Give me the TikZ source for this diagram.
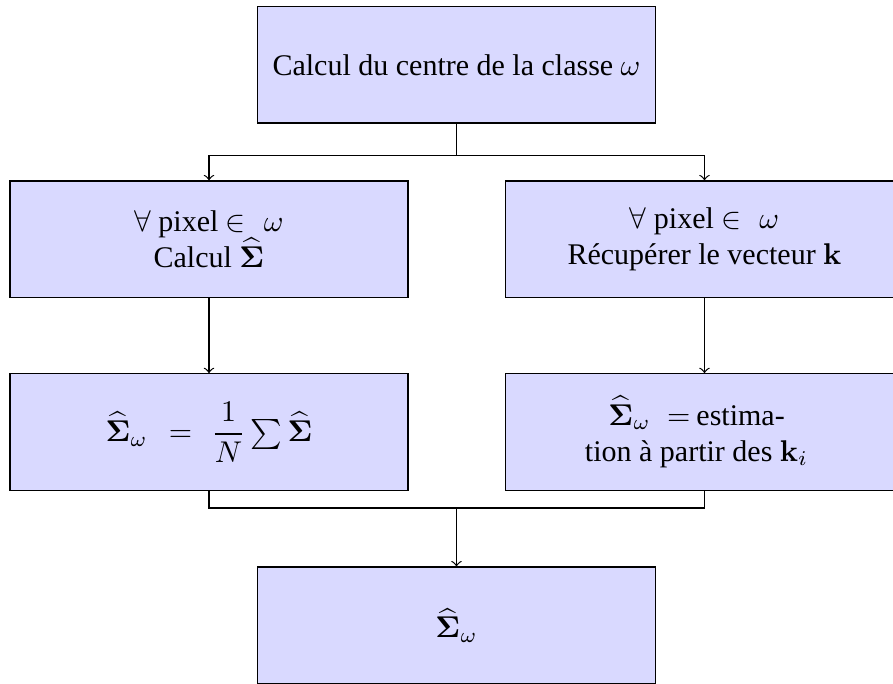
\documentclass[tikz,border=0pt]{standalone}
\usepackage[no-math]{fontspec}
\setmainfont{Liberation Serif}
\begin{document}
\begin{tikzpicture}[x=0.33333pt,y=-0.33333pt,
  box/.style={draw, fill=blue!15, minimum width=132.6pt, minimum height=38.8pt,
    align=center, inner sep=0pt, font=\normalsize},
  conn/.style={draw, line width=0.4pt},
  arr/.style={conn, ->}]
\useasboundingbox (0,0) rectangle (893,684);
\node[box] (top) at (456.5,64.8) {Calcul du centre de la classe $\omega$};
\node[box] (l2) at (209,239.2) {$\forall$ pixel $\in$\hspace{6pt}$\omega$\\Calcul $\widehat{\mathbf{\Sigma}}$};
\node[box] (r2) at (704.5,239.2) {$\forall$ pixel $\in$\hspace{6pt}$\omega$\\R\'ecup\'erer le vecteur $\mathbf{k}$};
\node[box] (l3) at (209,432) {$\widehat{\mathbf{\Sigma}}_\omega\hspace{4.2pt}=\hspace{3.6pt}{\displaystyle\frac{1}{N}}\sum\widehat{\mathbf{\Sigma}}$};
\node[box] (r3) at (704.5,432) {$\widehat{\mathbf{\Sigma}}_\omega$\hspace{5.5pt}$=$\hspace{2pt}estima-\hspace*{5.3pt}\\tion \`a partir des $\mathbf{k}_i$\hspace*{5.3pt}};
\node[box] (bot) at (456.5,625.3) {$\widehat{\mathbf{\Sigma}}_\omega$};
\coordinate (j1) at (456.5,155.7);
\coordinate (j2) at (456.5,508);
\draw[conn] (top.south) -- (j1);
\draw[arr] (j1) -| (l2.north);
\draw[arr] (j1) -| (r2.north);
\draw[arr] (l2.south) -- (l3.north);
\draw[arr] (r2.south) -- (r3.north);
\draw[conn] (l3.south) |- (j2);
\draw[conn] (r3.south) |- (j2);
\draw[arr] (j2) -- (bot.north);
\end{tikzpicture}
\end{document}
